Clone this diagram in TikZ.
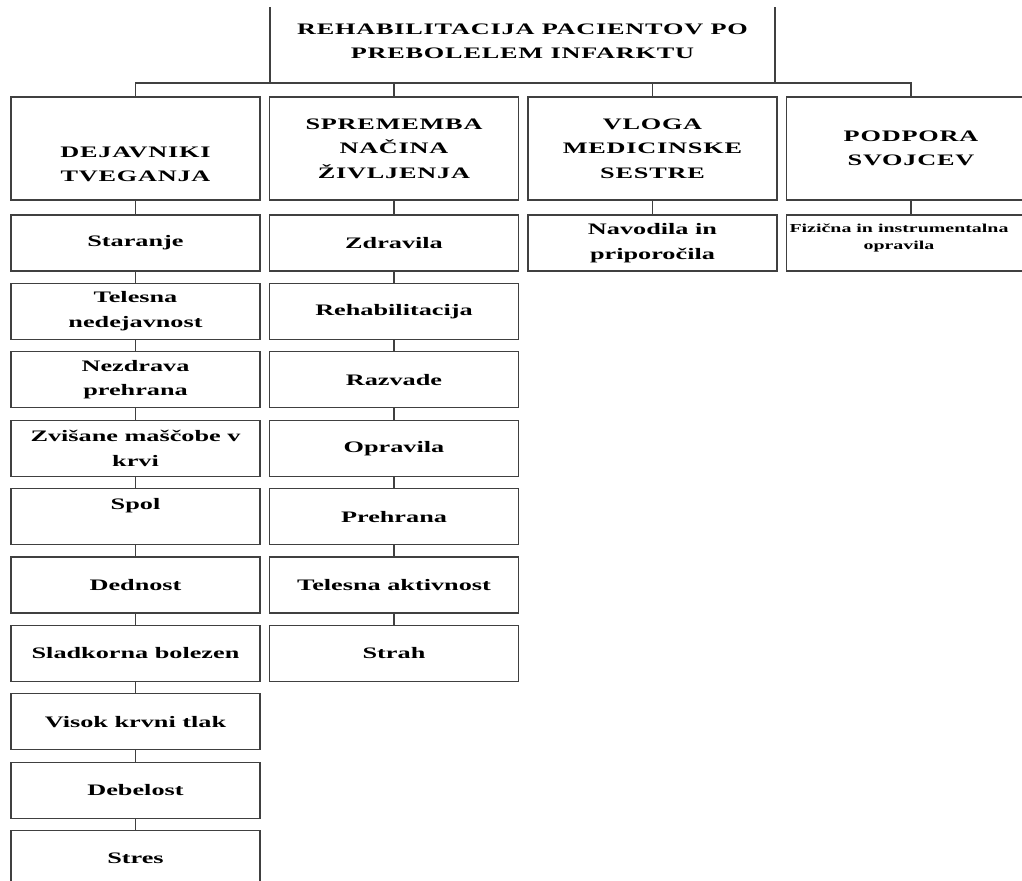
\documentclass[tikz,border=0pt]{standalone}
\usepackage{fontspec}
\setmainfont{Liberation Serif}[FakeStretch=1.64]
\newfontfamily\capsfont{Liberation Serif}[FakeStretch=1.64,LetterSpace=5]
\usetikzlibrary{positioning}

\begin{document}
\begin{tikzpicture}[
box/.style={
rectangle,
draw=black!75,
line width=1pt,
outer sep=0pt,
minimum width=186.75pt,
minimum height=42pt,
inner sep=2pt,
align=center,
font=\bfseries\fontsize{12}{18.4}\selectfont
},
head/.style={box,minimum height=77.25pt,font=\capsfont\bfseries\fontsize{12}{18.4}\selectfont},
small/.style={box,font=\bfseries\fontsize{9.1}{12.75}\selectfont},
link/.style={draw=black!75,line width=1pt},
]
\useasboundingbox (0,0) rectangle (766.5pt,-660.75pt);
\clip (0,-6pt) rectangle (766.5pt,-660.75pt);

\node (rehab) [head,minimum width=378.75pt,minimum height=62.25pt] at (391.875pt,-31.125pt) {REHABILITACIJA PACIENTOV PO\\PREBOLELEM INFARKTU};

\node (risk) [head] at (101.625pt,-111.375pt) {\rule{0pt}{32pt}DEJAVNIKI\\TVEGANJA};
\node (life) [head,right=7.125pt of risk] {SPREMEMBA\\NAČINA\\ŽIVLJENJA};
\node (nurse) [head,right=7.125pt of life] {VLOGA\\MEDICINSKE\\SESTRE};
\node (family) [head,right=7.125pt of nurse] {PODPORA\\SVOJCEV};

% dejavniki tveganja
\node (aging) [box,below=11.25pt of risk] {Staranje};
\node (inactive) [box,below=9.3pt of aging] {Telesna\\nedejavnost};
\node (diet) [box,below=9.3pt of inactive] {Nezdrava\\prehrana};
\node (fat) [box,below=9.3pt of diet] {Zvišane maščobe v\\krvi};
\node (sex) [box,below=9.3pt of fat] {Spol\rule[-19pt]{0pt}{19pt}};
\node (heredity) [box,below=9.3pt of sex] {Dednost};
\node (diabetes) [box,below=9.3pt of heredity] {Sladkorna bolezen};
\node (pressure) [box,below=9.3pt of diabetes] {Visok krvni tlak};
\node (obesity) [box,below=9.3pt of pressure] {Debelost};
\node (stress) [box,below=9.3pt of obesity] {Stres};

% sprememba nacina zivljenja
\node (drugs) [box,below=11.25pt of life] {Zdravila};
\node (rehabil) [box,below=9.3pt of drugs] {Rehabilitacija};
\node (leisure) [box,below=9.3pt of rehabil] {Razvade};
\node (chores) [box,below=9.3pt of leisure] {Opravila};
\node (food) [box,below=9.3pt of chores] {Prehrana};
\node (activity) [box,below=9.3pt of food] {Telesna aktivnost};
\node (fear) [box,below=9.3pt of activity] {Strah};

\node (advice) [box,below=11.25pt of nurse] {Navodila in\\priporočila};
\node (tasks) [small,below=11.25pt of family] {Fizična in instrumentalna\makebox[18pt]{}\\opravila\makebox[18pt]{}\rule[-10pt]{0pt}{10pt}};

\draw[link] (rehab.south) -| (risk.north);
\draw[link] (rehab.south) -| (life.north);
\draw[link] (rehab.south) -| (nurse.north);
\draw[link] (rehab.south) -| (family.north);

\draw[link] (risk) -- (aging);
\draw[link] (aging) -- (inactive);
\draw[link] (inactive) -- (diet);
\draw[link] (diet) -- (fat);
\draw[link] (fat) -- (sex);
\draw[link] (sex) -- (heredity);
\draw[link] (heredity) -- (diabetes);
\draw[link] (diabetes) -- (pressure);
\draw[link] (pressure) -- (obesity);
\draw[link] (obesity) -- (stress);

\draw[link] (life) -- (drugs);
\draw[link] (drugs) -- (rehabil);
\draw[link] (rehabil) -- (leisure);
\draw[link] (leisure) -- (chores);
\draw[link] (chores) -- (food);
\draw[link] (food) -- (activity);
\draw[link] (activity) -- (fear);

\draw[link] (nurse) -- (advice);
\draw[link] (family) -- (tasks);
\end{tikzpicture}
\end{document}
